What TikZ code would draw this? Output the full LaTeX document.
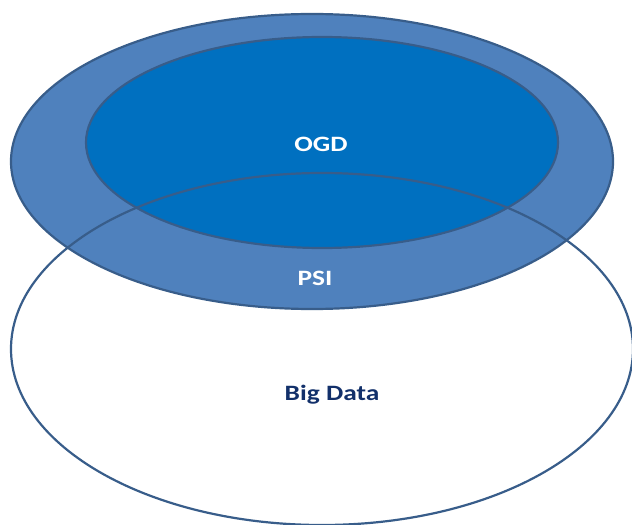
\documentclass[tikz,border=0pt]{standalone}
\usepackage{fontspec}
\setmainfont{Carlito}
\usepackage{xcolor}

\begin{document}
\begin{tikzpicture}[x=1bp,y=-1bp]
    \definecolor{PsiBlue}{HTML}{4F81BD}
    \definecolor{OgdBlue}{HTML}{0070C0}
    \definecolor{RimBlue}{HTML}{385D8A}
    \definecolor{NavyText}{HTML}{12306A}
    \tikzset{label text/.style={font=\fontsize{22}{26}\selectfont\bfseries, xscale=1.25, inner sep=0pt}}
    \useasboundingbox (0,0) rectangle (632,525);
    \clip (0,0) rectangle (632,525);
    \coordinate (PSI) at (312,161.5);
    \coordinate (OGD) at (322,142.5);
    \coordinate (BIG) at (322,349);
    \draw[line width=2.2bp, draw=RimBlue, fill=PsiBlue] (PSI) ellipse [x radius=301, y radius=147.5];
    \draw[line width=2.2bp, draw=RimBlue, fill=OgdBlue] (OGD) ellipse [x radius=236, y radius=105.5];
    \draw[line width=2.2bp, draw=RimBlue] (BIG) ellipse [x radius=311, y radius=176];
    \node[label text, text=white] (ogd) at (321,144) {OGD};
    \node[label text, text=white] (psi) at (315,278) {PSI};
    \node[label text, text=NavyText] (bigdata) at (332,395) {Big Data};
\end{tikzpicture}
\end{document}
